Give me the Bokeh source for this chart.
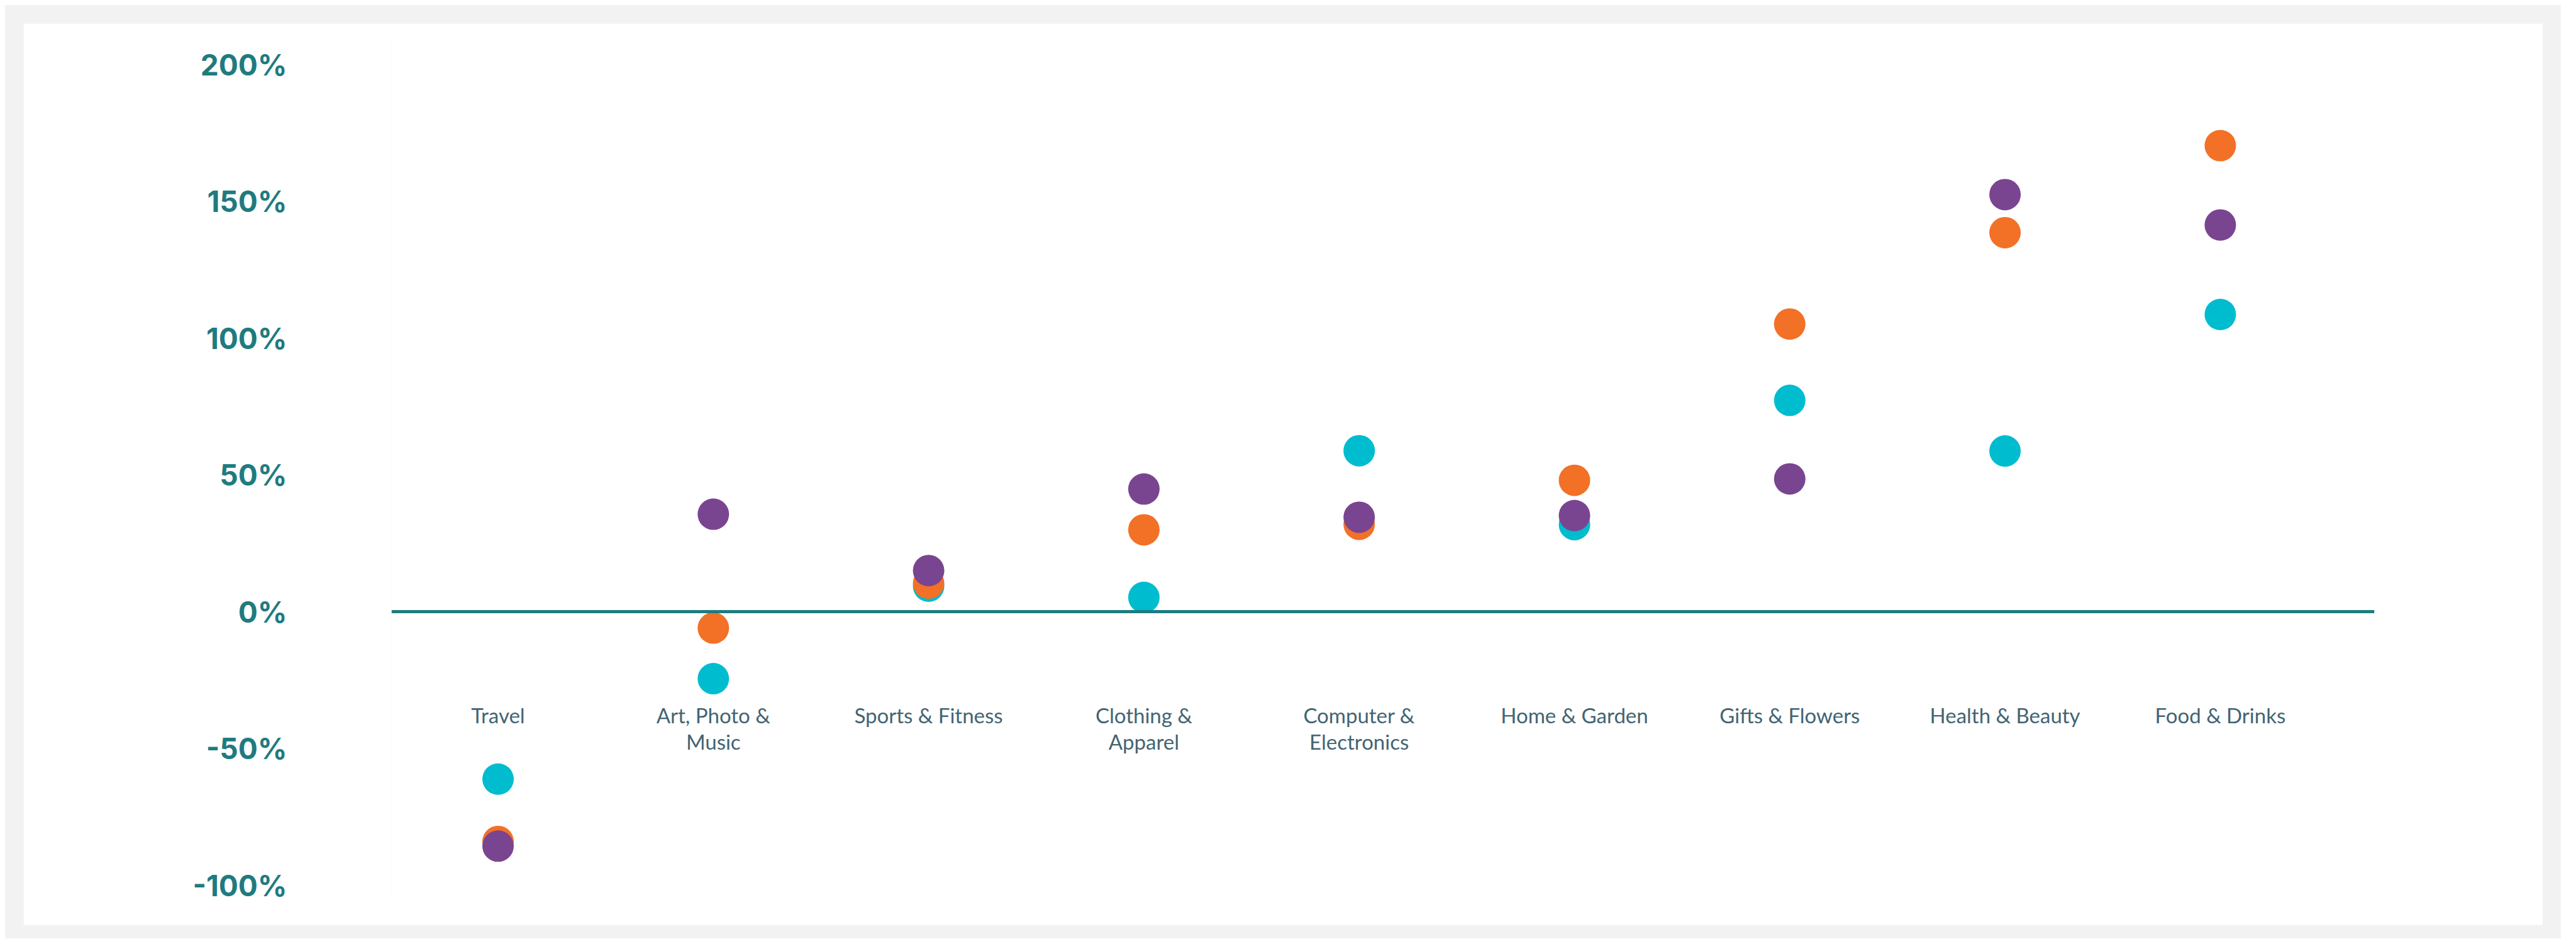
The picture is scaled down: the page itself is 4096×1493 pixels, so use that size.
from bokeh.plotting import figure
from bokeh.models import FixedTicker, NumeralTickFormatter, ColumnDataSource
from bokeh.layouts import column
from bokeh.embed import file_html
from bokeh.resources import INLINE

# ---- data ----
categories = ["Travel", "Art, Photo &\nMusic", "Sports & Fitness", "Clothing &\nApparel",
              "Computer &\nElectronics", "Home & Garden", "Gifts & Flowers",
              "Health & Beauty", "Food & Drinks"]
series_cyan = [-0.611, -0.244, 0.094, 0.053, 0.589, 0.319, 0.773, 0.588, 1.087]
series_orange = [-0.839, -0.059, 0.105, 0.300, 0.320, 0.481, 1.052, 1.386, 1.704]
series_purple = [-0.856, 0.357, 0.151, 0.449, 0.346, 0.352, 0.486, 1.525, 1.414]
y_ticks = [-1.0, -0.5, 0.0, 0.5, 1.0, 1.5, 2.0]

TEAL = "#1f7b80"
CYAN = "#00bccf"
ORANGE = "#f37027"
PURPLE = "#7a4590"
LABEL = "#436472"

xs = list(range(len(categories)))
src = ColumnDataSource(dict(x=xs, cyan=series_cyan, orange=series_orange, purple=series_purple))

p = figure(width=4006, height=1434, x_range=(-0.495, 8.716), y_range=(-1.054, 2.104),
           output_backend="svg", toolbar_location=None,
           min_border_left=585, min_border_right=268, min_border_top=20, min_border_bottom=40)
p.background_fill_color = "white"
p.border_fill_color = "white"
p.outline_line_color = None
p.grid.visible = False

for col, color in (("cyan", CYAN), ("orange", ORANGE), ("purple", PURPLE)):
    p.scatter("x", col, source=src, size=50, fill_color=color, line_color=None)

# x axis drawn as the zero baseline
xa = p.xaxis[0]
xa.fixed_location = 0
xa.ticker = FixedTicker(ticks=xs)
xa.major_label_overrides = {i: c for i, c in zip(xs, categories)}
xa.axis_line_color = TEAL
xa.axis_line_width = 5
xa.major_tick_line_color = None
xa.minor_tick_line_color = None
xa.major_tick_out = 0
xa.major_tick_in = 0
xa.major_label_standoff = 144
xa.major_label_text_font = "Lato"
xa.major_label_text_font_size = "33px"
xa.major_label_text_color = LABEL
xa.major_label_text_line_height = 1.06

ya = p.yaxis[0]
ya.ticker = FixedTicker(ticks=y_ticks)
ya.formatter = NumeralTickFormatter(format="0%")
ya.axis_line_color = None
ya.major_tick_line_color = None
ya.minor_tick_line_color = None
ya.major_tick_out = 0
ya.major_tick_in = 0
ya.major_label_standoff = 166
ya.major_label_text_font = "Inter"
ya.major_label_text_font_style = "bold"
ya.major_label_text_font_size = "46px"
ya.major_label_text_color = TEAL

layout = column(p, styles={"background-color": "#f2f2f2", "padding": "29px 29px 21px 29px",
                           "margin": "8px"})

open("out.html", "w").write(file_html(layout, INLINE))
